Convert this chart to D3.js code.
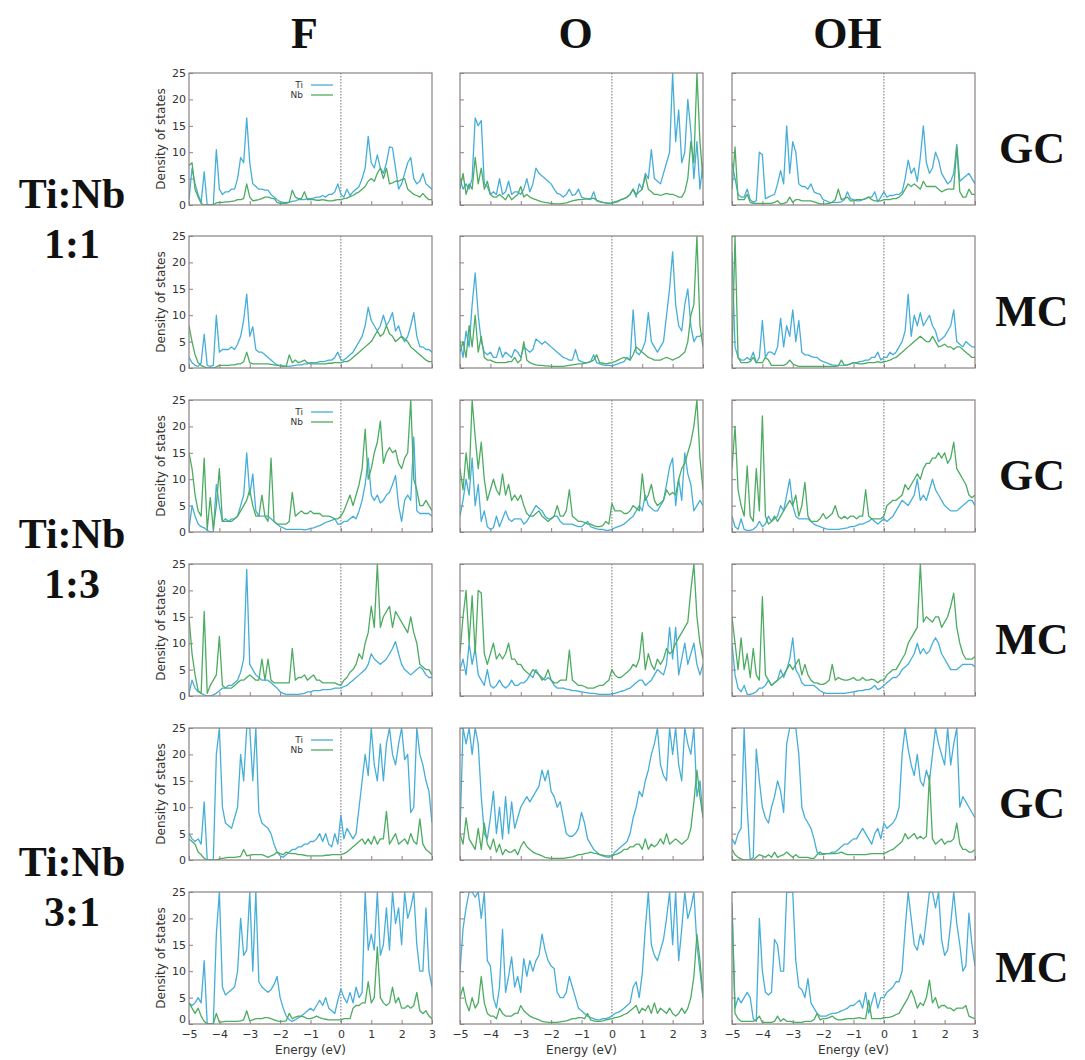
<!DOCTYPE html>
<html lang="en">
<head>
<meta charset="UTF-8">
<title>Density of states - Ti:Nb</title>
<script src="https://d3js.org/d3.v7.min.js"></script>
<style>
    body { margin: 0; background: #fff; }
    .tick text { font: 11px "DejaVu Sans"; fill: #333; }
    .tick line { stroke: #8a8280; }
    .lab { font-family: "Liberation Serif"; font-weight: bold; fill: #111; }
    .axlab { font: 12px "DejaVu Sans"; fill: #333; }
    .leg { font: 9px "DejaVu Sans"; fill: #333; }
</style>
</head>
<body>
<svg width="1085" height="1060"></svg>
<script>
// energy grid (eV)
var energy = [-5,-4.9,-4.8,-4.7,-4.6,-4.5,-4.4,-4.3,-4.2,-4.1,
    -4,-3.9,-3.8,-3.7,-3.6,-3.5,-3.4,-3.3,-3.2,-3.1,
    -3,-2.9,-2.8,-2.7,-2.6,-2.5,-2.4,-2.3,-2.2,-2.1,
    -2,-1.9,-1.8,-1.7,-1.6,-1.5,-1.4,-1.3,-1.2,-1.1,
    -1,-0.9,-0.8,-0.7,-0.6,-0.5,-0.4,-0.3,-0.2,-0.1,
    0,0.1,0.2,0.3,0.4,0.5,0.6,0.7,0.8,0.9,
    1,1.1,1.2,1.3,1.4,1.5,1.6,1.7,1.8,1.9,
    2,2.1,2.2,2.3,2.4,2.5,2.6,2.7,2.8,2.9,3];

var xTicks = [-5,-4,-3,-2,-1,0,1,2,3];
var yTicks = [0,5,10,15,20,25];
var columns = ["F", "O", "OH"];
var rowTags = ["GC", "MC", "GC", "MC", "GC", "MC"];
var ratios = ["1:1", "1:3", "3:1"];
var series = ["Ti", "Nb"];

// ---- Ti:Nb 1:1, GC ----
var tiF11gc = [1,7,4,2,0.5,6.3,0,0,0,10.5, 3,2,2.5,2.5,3,3,5,9,8,16.5, 8,4,3.5,3,3,2.8,2.8,2,1.5,1, 0.6,0.5,0.5,0.5,0.7,0.8,1,1,1,1.2,
    1.2,1.3,1.5,1.5,1.8,1.5,2,2,2.5,4, 2,1.5,3,1.8,2.5,3,3.5,5,7,13, 8,7,9.5,7,6,8,11,10.8,7,3, 4,6,8,9,5,4,4.5,6,4,3.5,3];
var nbF11gc = [7.5,8,3,1.5,0.3,0,0,0,0,0.4, 0.5,0.5,0.6,0.6,0.7,0.8,1,1,1.2,4, 1.5,0.8,0.9,1,1.2,1.5,1.5,1.3,1.2,0.5, 0.3,0.3,0.3,0.5,2.8,1.5,1.2,1.2,2.5,1,
    1,1,0.9,0.9,1,0.9,0.8,0.8,0.9,1, 1,1.2,1.3,1.6,1.8,2.2,2.5,3,3.5,4.5, 5,4.5,6,7,5,7,4,4.2,4.5,4.5, 4.8,5,3,2.5,2,1.8,1.5,2.2,1.5,1,1];
var tiO11gc = [5,3,4,3,5,16.5,15,16,4,3.5, 2,2.5,2,5,2,2.5,4.5,2,2.5,2.5, 2,3,5,2.5,4,7,6,5.5,5,4.5, 4,3,2.2,2,1.5,2,3,1.8,2,3,
    1.5,1.3,1.2,1,2.5,0.8,0.6,0.5,0.4,0.3, 0.3,0.5,0.6,1,1.2,1.5,2,3,1.5,4, 3,6,5,10.5,5,4.5,4,6,8,10, 25,12,18,8,10,20,14,5,12,3,8];
var nbO11gc = [3,6,2,4,3,9,4,7,3,4.5, 2,1.5,1.5,2,1.5,1,2,1,1.5,2, 3.5,1.5,2,1.5,1.2,1,0.8,0.6,0.5,0.4, 0.3,0.2,0.2,0.2,0.3,0.4,0.6,0.8,0.9,1,
    1,1.1,1.1,1.2,1.3,0.9,0.7,0.5,0.4,0.3, 0.4,0.6,0.8,1,1.2,1.5,2,3,2,2.5, 3,5.5,3,2.5,2,2,1.8,2,2.2,2, 2,1.8,1.5,1.5,2.5,5,12,8,25,12,5];
var tiOH11gc = [8,5,2,1.5,1.5,3,1,0.5,0.8,10, 9.5,1.2,1.5,1.8,2,4,6.5,4,15,6, 12,10,4,3.5,3.5,3,4,2.5,2.2,2, 1,0.8,0.5,0.5,0.5,0.5,0.6,1,2.5,1.2,
    1,0.8,0.8,1,1.2,1.5,1.5,2.5,0.6,1.5, 2.5,1.5,1.8,1.8,2,2,2.5,5,8.5,6, 7,4.5,9,15,8,6,7,10,8.5,6, 5,4,4.5,6,11.5,4.5,5,5.5,6,5,4];
var nbOH11gc = [3,11,1,1,1,2,0.5,0.3,0.3,0.3, 0.3,0.3,0.3,0.3,0.5,0.8,0.2,0.3,0.5,1.5, 0.5,1,1,0.8,0.8,0.8,0.8,0.6,0.4,0.2, 0.2,0.2,0.3,0.5,1,3,1,1.2,1.5,0.8,
    0.8,1,1,1,1.2,1.5,1,0.8,0.8,0.8, 1,1,1,1.2,1.2,1.5,2,3,4,3.5, 4,3.5,3,4.5,3.5,3.5,3.5,3.5,3,2.5, 2.8,3,3,3,11,2.5,1.5,1.5,3,2,2];

// ---- Ti:Nb 1:1, MC ----
var tiF11mc = [2,1,0.5,0.3,1,6.4,0.5,0.3,0.5,10, 3,3.5,3.5,3.5,4,3.5,4.5,6,9,14, 6,7.8,3.5,3,3,2.5,2,1.5,1,0.6, 0.5,0.4,0.3,0.3,0.4,0.5,0.6,0.6,0.8,0.8,
    1,1,1,1.2,1.2,1.3,1.5,1.5,2,3, 1.5,1.5,2,2.5,3,4,5,6,8,11.5, 9,8,7,8,10,8,9,10.5,7,8, 6,5,6,8,10.5,6,4,4,3.5,3.5,3];
var nbF11mc = [8,5,2.5,1,0.5,0.2,0,0,0,0.2, 0.5,0.5,0.5,0.5,0.6,0.6,0.8,0.8,1.2,3, 1,0.8,0.8,0.8,0.8,0.8,0.8,0.7,0.6,0.5, 0.4,0.3,0.3,2.5,1,1.5,1,1.2,1.5,1,
    0.8,0.8,0.8,0.8,0.8,0.8,0.9,0.9,1,1, 1,1.2,1.2,1.5,2,2.5,3,3.5,4,4.5, 5,6,7,6,6.5,8,6.5,6,5,5.5, 6,5.5,5,4,3.5,3,2.5,2,1.5,1.2,1.2];
var tiO11mc = [5,2,7,4,12,18,10,5,3,2.5, 3,2,2,4,2,3,2.5,2,3.5,3, 2,4,3.5,3,3.5,5.5,5,4.5,5,4.5, 4,3.5,3,2.5,2,1.8,1.5,1.5,3.5,1.5,
    1.2,1,1,1.2,2.5,1,0.8,0.6,0.5,0.5, 0.4,0.6,0.8,1,1.2,2,1.5,11,3,2.5, 3.5,5,10.5,5,4,3,4,5,10,15, 22,12,8,7,12,15,8,5,6,6,6.5];
var nbO11mc = [3,5,2,8,4,10,3,6,2,1.5, 1.5,1.2,1,1,1,1,1.2,1.2,2,1, 1.5,5,1.5,1,0.8,0.6,0.5,0.5,0.4,0.4, 0.3,0.3,0.3,0.3,0.3,0.4,0.5,0.6,0.7,0.8,
    0.8,0.9,1,1.2,1.5,2.5,1,0.9,0.8,0.9, 1,1.2,1.5,1.8,2,1.8,1.5,2.5,4,3.5, 3,2.5,2,1.8,1.5,1.5,1.5,1.8,2,1.8, 1.5,1.8,2,2.5,3,5,10,12,25,8,4];
var tiOH11mc = [22,4,2,1.5,1.5,2,1.5,3,1,2, 9,2,3,3,2.5,4,9.4,4,8,6, 11,5,9,3,2.5,2.5,2.2,2,2,1.5, 1.2,1,0.8,0.6,0.5,0.5,0.5,0.5,0.6,0.8,
    1,1,1.2,1.3,1.5,1.5,2,2,3,1.5, 2,2,3,2.5,3,4,5,7,14,6, 10,8,10.5,8,9,10,8,7,5,5.5, 6,7,8,11,5,4.5,4,5,4.5,4,4];
var nbOH11mc = [2,25,2,1,1,1,1.2,2,1,1, 1,2,1.5,0.5,0.5,0.5,0.5,0.5,0.8,1.5, 0.8,0.5,0.3,0.3,0.3,0.3,0.3,0.3,0.3,0.3, 0.3,0.3,0.3,0.3,0.3,0.4,1.5,0.5,0.6,0.8,
    1,0.9,0.8,0.8,0.9,1,1,1,1.2,1, 1.2,1.3,1.5,1.8,2,2.5,3,3.5,4,4.5, 5,5.5,6,5.5,5,5,6,5,4,4.2, 4.5,4,4,3.5,4,4,3.5,3,2.5,2,2];

// ---- Ti:Nb 1:3, GC ----
var tiF13gc = [0.5,5,3,1.5,1,0.8,0.3,0,0,9, 5,2,2.5,2,2.5,2.5,3,5,7,15, 7,11,4,3,3,3,3,2.5,2,1.5, 1,0.8,0.5,0.5,0.5,0.5,0.5,0.5,0.4,0.5,
    0.7,0.8,1,1.2,1.5,1.8,2,2.2,2.5,1.5, 1.5,2,2,2.5,3,2.5,4,6,9,14, 7,6,7,5.5,6,7,7.5,9,10.7,5, 2,6,7,6,18,4,3.5,3.5,3.5,3.5,3];
var nbF13gc = [15,12,7,4,3,14,0.5,6.5,0.5,5, 12,2,2,2,2,2.5,3,4,5,6, 8,5,3,3,7,3,2,14,2,1.5, 1.5,1.5,1.5,2,7.5,3,3.5,4,3.5,3.5,
    4,3.5,3.5,3.5,3,3,3,2.8,2.5,2.5, 3,4,5.5,7,5,7,9,12,19.5,10, 12,15,17,21,13,15,16,15,15.5,13, 12,14,15,25,10,8,5,5,6,5,4];
var tiO13gc = [3,6,10,7,14,5,9,2,4,1, 0.5,0.8,3,1,2.5,4,2.5,2,2.5,2.5, 2.5,1.5,2,3,4,5,4.5,4,3,2.5, 2.5,3,3,2,1.5,1.5,1.5,1.5,1.2,1,
    1,1.5,2,1,0.8,0.6,0.5,0.5,0.3,0.3, 0.5,0.8,1,1.2,1.5,2,2.5,3,4,5, 4,7,5,4.5,4,4,5,6,9,12.3, 14,5,10,6,15,11,9,4,5,6,5];
var nbO13gc = [12,8,15,10,25,18,12,17,10,6, 8,10,8,7,11,7,9,6,7,6, 7,5,3.5,3,3,3.5,4,3,2.5,2, 2.5,3,5,3,3,4,8,3,2.5,2,
    2,1.8,1.5,1.5,1.2,1,1,1.2,2,1.5, 5.4,4,4,4,3.5,3.5,4,5,4.5,4, 11,6,7,9,6,5,5.5,6,8,7, 7.5,7,10,12,13,15,17,20,25,14,8];
var tiOH13gc = [3,1,0.5,2.5,0.5,0.3,0.3,0.5,1,2, 1,1.5,3,2,2.5,3,5,4,7,10, 5,3,2.5,2.5,2.5,2.5,2,1.5,1.2,1, 0.8,0.6,0.5,0.5,0.5,0.5,0.6,0.7,0.8,1,
    1,1.2,1.5,1.5,1.8,2,2.5,2,1.5,2, 2.5,2,2.5,3,4,5,6,5.5,5,6, 7,10,6,7,6,8,10,8,7,6, 5,4.5,4,4,4,4.5,5,5.5,6,6,5];
var nbOH13gc = [12,20,8,5,3,12.5,3,2,12,4, 22,3,1.5,2,3,2,3,4,5,6, 5,7,3,5,9.4,3,2,2,2,2.5, 3.5,2.5,3,3.5,5,3,2.5,3,2.5,3,
    3,2.5,3,3,8,3,2.5,2.5,2.5,2.5, 3,5,5.5,6,6,6.5,7,9,8,9, 10,11,10,12,13,13,14,14,15,14, 15,13,14,17,12,11,10,9,7,6.5,7];

// ---- Ti:Nb 1:3, MC ----
var tiF13mc = [0.5,3,1.5,0.8,0.5,0.2,0,0,0.2,0.5, 1,1.5,1.5,2,2,2.5,3,4.5,7,24, 6,5,4,3.5,3,3,3,2.5,2,1.5, 0.8,0.5,0.3,0.3,0.3,0.3,0.3,0.4,0.5,0.8,
    0.8,1,1,1,1.2,1.2,1.2,1.3,1.5,1.5, 1.5,1.8,2,2.5,3,3.5,4,4.5,5,6, 8,7,6.5,6,6.5,7,8,9,10.3,8, 6,5,4.5,4,4.5,5,5.5,5,4,3.5,3.5];
var nbF13mc = [15,8,4,1,0.5,16,0.5,2,3,4, 11.3,2,1.5,1.5,1.5,2,2.5,3,3,3.5, 4,3.5,3,3,7,3,7,3,2.5,2.5, 2.5,2.5,2.5,2.5,9,3,3.5,3.5,4,3,
    3.5,4,3,3,2.5,2.5,2.5,2.5,2.5,2.2, 2,3,3.5,4.5,5,6,8,7,10,12, 17,13,25,13,15,16,17,13,16,15, 14,13,12,15,12,10,6,5.5,5,5,4];
var tiO13mc = [5,7,4,10,6,9,4,3,2,5, 2,1.5,2,3,2,1.5,2,3,2,2, 2.5,2.5,3,4,3.5,5,4,3.5,3,3.5, 3,2,1.5,1.5,1.5,1.3,1.2,1,1,0.9,
    0.8,0.7,0.6,0.5,0.5,0.4,0.3,0.3,0.3,0.3, 0.4,0.5,0.7,0.9,1,1.3,1.5,2,2.5,3, 3,2,2.5,3,4,5,4.5,4,6,13, 7,13,4,7,10,6,8,10,6,4,6];
var nbO13mc = [8,15,20,10,19,8,20,19.5,8,6, 8,10,7,8,7,8,10,7,7,6, 6,5,4.5,4,5,4.5,4,3,3.5,5, 3,2.5,2.5,3,3,3,8.7,3,2.5,2,
    2,1.8,1.5,1.5,1.5,1.8,2,2,2.5,3, 5,4,3.5,3.5,4,4.5,5,6,5.5,7, 12,5,8,6,5,7,6,7,9,8, 8.5,10,11,12,13,14,20,25,15,10,7];
var tiOH13mc = [10,4,1.5,0.8,2,0.3,0.3,0.5,0.8,1.5, 1.5,2,3,2,2.5,3,5,3.5,5,7, 11,5,4,2.5,2,2,2,2,1.5,1, 0.7,0.5,0.5,0.5,0.5,0.5,0.5,0.5,0.6,0.7,
    0.8,0.9,1,1,1.2,1.2,1.5,2,1.2,1.5, 2,2.5,3,3.5,3.5,4,5,5.5,6,7, 8,10,8,9,8,8.5,10,11,10,8, 7,6,5,5,5,5.5,6,6,6,6,5.5];
var nbOH13mc = [15,10,5,11,5,8,3.5,9,4,3, 18.8,4,3,2,2.5,3,3.5,4,5,6, 5,6,7,4,6,4,3,2.5,2.5,2.2, 2.2,2.5,3,6,3,3.5,3.2,3,3,3.2,
    3.5,3,3,3.5,3,3,3.2,3,2.5,3, 3,4,4.5,5,5,6,7,8,10,11, 12,13,25,14,15,14.5,14,15,15,13, 14,15,17,19.5,13,10,8,7,7,7,7.5];

// ---- Ti:Nb 3:1, GC ----
var tiF31gc = [5,4,3.5,4,3,11,0,0,0,20, 25,10,7,6.5,6,8,10,20,15,25, 25,15,25,9,7,6.5,6,5,3,1.5, 0.8,0.5,1,1.5,2,2,2.5,2.5,3,3,
    3.5,3.5,4,5,3.5,5,3,2.5,5,3, 8.5,4,6,5,4,5,10,15,20,16, 25,18,15,22,15,22,25,20,18,22, 25,19,20,9,10,25,20,18,15,13,7];
var nbF31gc = [4,3.5,3,1.5,1,0.3,0,0,0,0, 0.2,0.3,0.4,0.5,0.5,0.5,0.6,0.7,2,0.8, 0.9,1,1,1,1,0.8,0.5,0.8,1,1.5, 1.2,1,1.5,1.3,1.2,1.2,1,1,0.9,0.8,
    0.8,0.8,0.8,0.8,0.8,0.9,0.9,1,1,1, 1,1.2,1.5,2,2.5,3,3.5,4,3,4, 3,4.5,3,4,4,9.2,3,4,5,3, 3.5,4,3,5,3.5,3,7.8,3,2,1.5,1];
var tiO31gc = [5,25,22,25,20,25,22,12,5,4, 8,13,5,10,4,12,5,11,6,8, 10,11,12,11,12,13,14,17,15,17, 13,12,10,11,8,5,4.5,4.5,5,6,
    9,7,4,3,2,1.5,1,0.8,0.6,0.5, 0.8,1.5,2,2.5,3,3.5,5,8,10,13, 12,15,17,20,22,25,18,16,15,25, 20,25,18,15,25,22,20,25,12,15,8];
var nbO31gc = [5,3,8,4,3,2,6,2,7,3, 2,4,1.5,3,1,2,1.5,1.5,2,1, 2.5,3.5,2.5,2,1.5,1.2,1,0.8,0.5,0.4, 0.3,0.3,0.3,0.3,0.3,0.4,0.5,0.6,0.8,1,
    1,1.2,1.3,1.5,1.3,1.2,1,0.9,0.8,0.8, 0.8,1,1.2,1.5,2,2,2.5,2.5,3,3, 2,4,2,3,2.5,3,4,3,5,3, 3.5,4,3.5,3,3.5,4,6,11,17,12,8];
var tiOH31gc = [4,3,5,6,25,10,0,0.5,21,15, 10,8,7,10,12,15,13,9,22,25, 25,25,20,10,8,7,6,4,1.5,1, 1.2,1.2,1.2,1.5,1.5,2,2.5,3,3,3.5,
    4,4,5,6,5,4,3,5,6,4, 7,6,6.5,7,8,10,20,25,21,18, 16,20,15,14,17,15,20,25,22,20, 18,25,18,22,25,10,12,11,10,9,8];
var nbOH31gc = [2,1,0.5,0.2,0,0,0,0,0.5,1, 0.8,0.5,1,0.5,1.5,0.5,0.8,1,1.5,1, 0.5,1,0.5,0.5,0.5,0.5,0.3,0.3,1,1.5, 1,1.2,1.2,1.2,1.2,1.3,1.5,1.2,1,1,
    1,1,1,1,1,1.1,1.2,1.2,1.2,1.2, 1.2,1.5,1.8,2,2.5,3,3.5,5,4,4.5, 5,4,4.5,4,4.5,16,4,3,3.5,4, 3,3.5,3.5,4,7,3,2,2,1.5,1.5,2];

// ---- Ti:Nb 3:1, MC ----
var tiF31mc = [4,3.5,4,5,4,12,0,0,0,17, 25,7,5.5,6,6.5,7,10,20,13,14, 25,10,25,8,7,6.5,6,6.5,7.5,9, 5,3,1.5,0.8,0.5,0.8,1.2,1.5,2,2.5,
    3,2.5,3.5,4.5,3.5,5,3,2.5,2,4.5, 6.6,5,4,6,4,7,5,6,25,14, 17,14,25,13,15,22,14,25,19,22, 15,25,20,22,25,15,10,10,22,10,7];
var nbF31mc = [4,3,2,3,1.5,0.5,0,0,0,2, 0.3,0.4,0.5,0.5,0.5,0.5,0.5,0.6,0.8,2.5, 0.6,0.8,1,1,1,1.2,1.2,1,0.8,0.6, 0.5,0.5,0.6,2,1,1.3,1.5,1.5,1.3,1,
    1,1.2,1.5,1.2,1,0.9,0.8,0.8,0.8,0.8, 0.8,1,1,1,3,3.5,3.5,4,4,8, 4,5,14.6,5,4,3.5,4,7,4,5, 3,3,3.5,3,3.5,6,2.5,2,2.5,1.5,1];
var tiO31mc = [10,18,22,25,25,24,25,20,25,12, 11,5,3,7,17.9,6,9,12.7,7,9, 6,12.4,9,12,10,12,13,17,14,12, 11,10.5,6,5,5,6,9,7,5,3,
    2.5,2,1.5,1.2,1,0.8,0.8,1,1,1.2, 1.5,2,2.2,2.5,3,3.5,4,7,8,5, 9.5,18,25,15,13,12,14,16,20,25, 15,25,12,18,25,20,22,25,15,10,5];
var nbO31mc = [5,7,4,2.5,5,3,4,9,4,2, 1.5,1.5,1,3,2,1.5,1.5,1.5,2,2, 3.5,2.5,2,1.5,1.2,1,0.8,0.5,0.4,0.3, 0.3,0.3,0.3,0.4,0.5,0.6,0.8,1,1,1.2,
    1.2,1,2,0.8,0.6,0.5,0.5,0.6,0.8,0.9, 1,1.2,1.3,1.5,1.8,2,2.5,3,3.5,2, 3,2.5,3.5,2,4,2,3,2.5,2,3, 2,1.5,2,3,2,3,5,9,17,12,5];
var tiOH31mc = [23,3,5,4,5,6,5,1,0.5,20, 10,6,5.5,6,16,15,10,10,25,25, 25,12,7,6.5,5,8.6,4,3,2,1.5, 1.5,1.5,1.8,2,2,2.2,2.5,2.7,3,3.5,
    3.5,4,4.5,3,6,2,4,6,3,5, 5,6,6.5,7,8,8,10,18,25,20, 15,14,17,15,20,25,25,22,25,16, 13,14,19,25,19,15,10,11,21,15,11];
var nbOH31mc = [22,2,1,0.5,0.5,0.5,0.5,0.5,0.8,1.5, 0.3,0.3,0.3,0.3,0.5,1.5,0.5,1,0.5,0.5, 0.4,0.3,0.3,0.3,0.5,0.5,0.5,0.8,2,0.8, 1,1,1.2,1.5,1,0.8,0.8,0.9,1,1,
    1,1.1,1.2,1,1,4.5,1,1,1,1, 1.2,1.2,1.3,1.5,1.8,2,3,4,5,6.4, 5,3,4,3.5,5,8.3,4,5,3,3.5, 3.5,3,3,2.5,3,3,3,3.5,1.5,1.2,1];

// panel table: rows top to bottom, columns F / O / OH
var panels = [
    [tiF11gc, nbF11gc], [tiO11gc, nbO11gc], [tiOH11gc, nbOH11gc],
    [tiF11mc, nbF11mc], [tiO11mc, nbO11mc], [tiOH11mc, nbOH11mc],
    [tiF13gc, nbF13gc], [tiO13gc, nbO13gc], [tiOH13gc, nbOH13gc],
    [tiF13mc, nbF13mc], [tiO13mc, nbO13mc], [tiOH13mc, nbOH13mc],
    [tiF31gc, nbF31gc], [tiO31gc, nbO31gc], [tiOH31gc, nbOH31gc],
    [tiF31mc, nbF31mc], [tiO31mc, nbO31mc], [tiOH31mc, nbOH31mc]
];

var colors = { Ti: "#46aed9", Nb: "#4dac62" };
var frameColor = "#8a8280";

var svg = d3.select("svg");
var colX = [189, 460, 732],
    rowY = [73, 236, 400, 564, 728, 892],
    plotW = 243, plotH = 132;

var x = d3.scaleLinear().domain([-5, 3]).range([0, plotW]);
var y = d3.scaleLinear().domain([0, 25]).range([plotH, 0]);

var fmt = function(d) { return d < 0 ? "\u2212" + Math.abs(d) : String(d); };

svg.append("defs").append("clipPath").attr("id", "clip")
    .append("rect").attr("width", plotW).attr("height", plotH);

var line = d3.line()
    .x(function(d, i) { return x(energy[i]); })
    .y(function(d) { return y(d); });

panels.forEach(function(p, k) {
    var r = Math.floor(k / 3), c = k % 3;
    var g = svg.append("g")
        .attr("transform", "translate(" + colX[c] + "," + rowY[r] + ")");

    // y axis, ticks inside
    var ya = d3.axisLeft(y).tickValues(yTicks).tickSizeInner(-4).tickSizeOuter(0).tickPadding(3)
        .tickFormat(c === 0 ? fmt : "");
    var yg = g.append("g").call(ya).call(function(s) { s.select(".domain").remove(); });
    // lift the bottom "0" a little so it clears the energy tick labels
    if (c === 0 && r === 5) {
        yg.selectAll(".tick text").filter(function(d) { return d === 0; }).attr("dy", "-0.1em");
    }

    var xa = d3.axisBottom(x).tickValues(xTicks).tickSizeInner(-4).tickSizeOuter(0).tickPadding(6)
        .tickFormat(r === 5 ? fmt : "");
    g.append("g").attr("transform", "translate(0," + plotH + ")")
        .call(xa).call(function(s) { s.select(".domain").remove(); });

    // Fermi level
    g.append("line")
        .attr("x1", x(0)).attr("x2", x(0)).attr("y1", 0).attr("y2", plotH)
        .attr("stroke", "#6f6f6f").attr("stroke-width", 1)
        .attr("stroke-dasharray", "1.5,1.5");

    var lines = g.append("g").attr("clip-path", "url(#clip)");
    series.forEach(function(s, j) {
        lines.append("path")
            .datum(p[j])
            .attr("d", line)
            .attr("fill", "none")
            .attr("stroke", colors[s])
            .attr("stroke-width", 1.3)
            .attr("stroke-linejoin", "round");
    });

    g.append("rect")
        .attr("width", plotW).attr("height", plotH)
        .attr("fill", "none").attr("stroke", frameColor).attr("stroke-width", 1.2);

    if (c === 0) {
        g.append("text").attr("class", "axlab")
            .attr("transform", "translate(-24," + plotH / 2 + ") rotate(-90)")
            .attr("text-anchor", "middle")
            .text("Density of states");
    }
    if (r === 5) {
        g.append("text").attr("class", "axlab")
            .attr("x", plotW / 2).attr("y", plotH + 30)
            .attr("text-anchor", "middle")
            .text("Energy (eV)");
    }
    // legend on GC panels of first column
    if (c === 0 && r % 2 === 0) {
        series.forEach(function(s, j) {
            var ly = 12 + j * 10;
            g.append("text").attr("class", "leg")
                .attr("x", 114).attr("y", ly + 3)
                .attr("text-anchor", "end").text(s);
            g.append("line")
                .attr("x1", 122).attr("x2", 144).attr("y1", ly).attr("y2", ly)
                .attr("stroke", colors[s]).attr("stroke-width", 1.3);
        });
    }
});

// column titles
columns.forEach(function(t, c) {
    svg.append("text").attr("class", "lab")
        .attr("x", colX[c] + plotW / 2 - 6).attr("y", 48)
        .attr("text-anchor", "middle").style("font-size", "44px")
        .text(t);
});

// right side labels
rowTags.forEach(function(t, r) {
    svg.append("text").attr("class", "lab")
        .attr("x", 1032).attr("y", rowY[r] + plotH / 2 + 24)
        .attr("text-anchor", "middle").style("font-size", "44px")
        .text(t);
});

// left side labels
var leftBase = [[208, 258], [548, 598], [876, 926]];
ratios.forEach(function(t, i) {
    svg.append("text").attr("class", "lab")
        .attr("x", 72).attr("y", leftBase[i][0])
        .attr("text-anchor", "middle").style("font-size", "42px")
        .text("Ti:Nb");
    svg.append("text").attr("class", "lab")
        .attr("x", 72).attr("y", leftBase[i][1])
        .attr("text-anchor", "middle").style("font-size", "42px")
        .text(t);
});
</script>
</body>
</html>
